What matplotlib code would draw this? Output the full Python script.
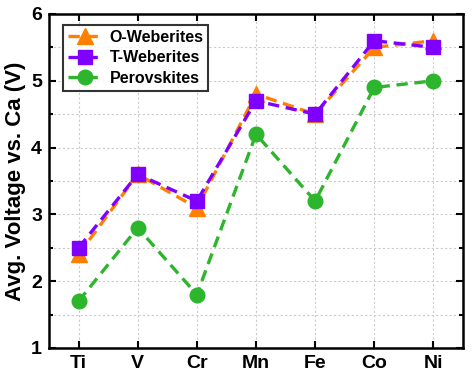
import matplotlib
matplotlib.use("Agg")
import matplotlib.pyplot as plt
from matplotlib.ticker import MultipleLocator

plt.rcParams['font.family'] = ['Liberation Sans', 'DejaVu Sans']
plt.rcParams['font.weight'] = 'bold'

elements = ["Ti", "V", "Cr", "Mn", "Fe", "Co", "Ni"]
o_weberites = [2.4, 3.6, 3.1, 4.8, 4.5, 5.5, 5.6]
t_weberites = [2.5, 3.6, 3.2, 4.7, 4.5, 5.6, 5.5]
perovskites = [1.7, 2.8, 1.8, 4.2, 3.2, 4.9, 5.0]

fig = plt.figure(figsize=(4.72, 3.82), dpi=100)
ax = fig.add_axes([49/472, 1 - 348/382, (463-49)/472, (348-14)/382])

x = list(range(len(elements)))
dash = (0, (3.4, 2.0))
ax.plot(x, o_weberites, ls=dash, lw=2.4, color='#FF8000', marker='^', ms=11, label='O-Weberites', zorder=3)
ax.plot(x, t_weberites, ls=dash, lw=2.4, color='#8000FF', marker='s', ms=9.5, label='T-Weberites', zorder=4)
ax.plot(x, perovskites, ls=dash, lw=2.4, color='#2DB52D', marker='o', ms=10.5, label='Perovskites', zorder=3)

ax.set_xlim(-0.5, 6.5)
ax.set_ylim(1, 6)
ax.set_xticks(x)
ax.set_xticklabels(elements, fontsize=14, fontweight='bold')
ax.yaxis.set_major_locator(MultipleLocator(1))
ax.yaxis.set_minor_locator(MultipleLocator(0.5))
for lab in ax.get_yticklabels():
    lab.set_fontsize(14)
    lab.set_fontweight('bold')
ax.set_ylabel('Avg. Voltage vs. Ca (V)', fontsize=16, fontweight='bold', labelpad=4)

ax.grid(True, which='both', color='#cccccc', ls=(0, (2, 2)), lw=0.8)
ax.set_axisbelow(True)
ax.tick_params(which='both', direction='in', top=True, right=True, width=1.5)
ax.tick_params(which='major', length=5, pad=5)
ax.tick_params(which='minor', length=3)
ax.tick_params(axis='x', which='minor', bottom=False, top=False)
for s in ax.spines.values():
    s.set_linewidth(1.8)

leg = ax.legend(loc='upper left', bbox_to_anchor=(0.034, 0.967), frameon=True,
                fancybox=False, edgecolor='black', handlelength=2.2, borderpad=0.3,
                borderaxespad=0, labelspacing=0.35, handletextpad=0.4,
                prop={'weight': 'bold', 'size': 11.5})
leg.get_frame().set_linewidth(1.5)

fig.savefig('out.png', dpi=100)
